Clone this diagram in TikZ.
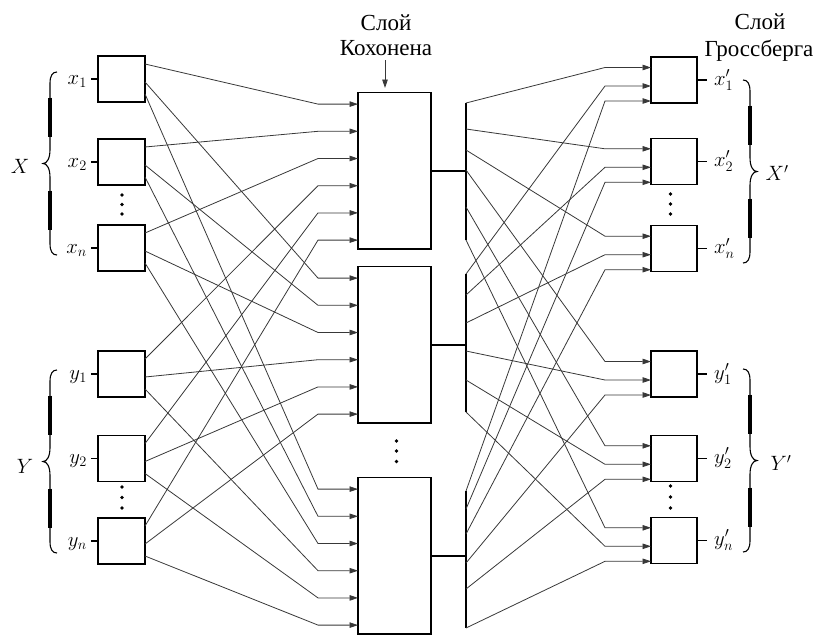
\documentclass[tikz,border=0pt]{standalone}
\usepackage{fontspec}
\newfontfamily\cyrfont{Liberation Serif}
\usetikzlibrary{arrows.meta,calc}
\begin{document}
\begin{tikzpicture}[x=1pt,y=-1pt,
  every node/.style={font=\fontsize{20.74}{25}\selectfont},
  ibox/.style={draw, line width=1.5pt, minimum width=47pt, minimum height=46pt, inner sep=0pt, outer sep=0pt},
  kbox/.style={draw, line width=1.5pt, minimum width=73pt, minimum height=156.5pt, inner sep=0pt, outer sep=0pt},
  conn/.style={line width=0.8pt, draw=black!78},
  arr/.style={conn, -{Triangle[length=8.5pt,width=5.5pt]}},
  heavy/.style={line width=1.5pt},
  stub/.style={line width=1.1pt},
  ttl/.style={font=\cyrfont\fontsize{23}{27}\selectfont, inner sep=0pt, anchor=base},
  lbl/.style={inner sep=0pt},
  bracepic/.pic={
    \draw[line width=1.1pt] (14,-91.5) .. controls (9.5,-91.5) and (7,-88) .. (7,-80)
      -- (7,-14) .. controls (7,-5) and (4,0) .. (0,0)
      .. controls (4,0) and (7,5) .. (7,14)
      -- (7,80) .. controls (7,88) and (9.5,91.5) .. (14,91.5);
    \draw[line width=3.2pt] (7,-66) -- (7,-27) (7,27) -- (7,66);
  },
]
\useasboundingbox (0,0) rectangle (819,635);

% input boxes
\foreach \i/\t in {1/56, 2/139, 3/225, 4/351, 5/435.5, 6/518}
  \node[ibox] (in\i) at (121.5, \t+23) {};
% Kohonen boxes
\foreach \k/\t in {1/92.7, 2/266.7, 3/477.7}
  \node[kbox] (kh\k) at (394.5, \t+78.25) {};
% Grossberg boxes
\foreach \i/\t in {1/57, 2/138.3, 3/225.7, 4/351, 5/435.3, 6/517.3}
  \node[ibox, minimum width=46pt] (gb\i) at (674, \t+23) {};

% input stubs and labels
\foreach \i/\t in {1/x_1, 2/x_2, 3/x_n, 4/y_1, 5/y_2, 6/y_n} {
  \draw[stub] (in\i.west) -- ++(-7,0);
  \node[lbl, anchor=base east] (lin\i) at ($(in\i.west)+(-11,5)$) {$\t$};
}
% output stubs and labels
\foreach \i/\t in {1/x'_1, 2/x'_2, 3/x'_n, 4/y'_1, 5/y'_2, 6/y'_n} {
  \draw[stub] (gb\i.east) -- ++(10,0);
  \node[lbl, anchor=base west] (lout\i) at ($(gb\i.east)+(17,5)$) {$\t$};
}

% exits of input boxes
\foreach \i in {1,...,6}
  \foreach \k/\o in {1/8, 2/26, 3/38}
    \coordinate (ex-\i-\k) at ($(in\i.north east)+(0,\o)$);
% inputs of Kohonen boxes
\foreach \k in {1,2,3}
  \foreach \i in {1,...,6}
    \coordinate (kin-\k-\i) at ($(kh\k.north west)+(0,{11.4+27.2*(\i-1)})$);
% connections input -> Kohonen
\foreach \i in {1,...,6}
  \foreach \k in {1,2,3}
    \draw[arr] (ex-\i-\k) -- ($(kin-\k-\i)+(-40,0)$) -- (kin-\k-\i);

% Kohonen outputs and buses
\foreach \k/\a/\b/\c/\d/\e/\f in {1/103/129/150/170/207/240, 2/274/295/323/351/380/412, 3/491/509/534/563/589/628} {
  \coordinate (bx-\k-1) at (466,\a);
  \coordinate (bx-\k-2) at (466,\b);
  \coordinate (bx-\k-3) at (466,\c);
  \coordinate (bx-\k-4) at (466,\d);
  \coordinate (bx-\k-5) at (466,\e);
  \coordinate (bx-\k-6) at (466,\f);
  \coordinate (kj\k) at (kh\k.east -| bx-\k-1);
  \draw[heavy] (bx-\k-1) -- (bx-\k-6);
  \draw[heavy] (kh\k.east) -- (kj\k);
}
% inputs of Grossberg boxes
\foreach \i in {1,...,6}
  \foreach \k/\o in {1/10.5, 2/29, 3/44}
    \coordinate (gin-\i-\k) at ($(gb\i.north west)+(0,\o)$);
% connections Kohonen -> Grossberg
\foreach \k in {1,2,3}
  \foreach \i in {1,...,6}
    \draw[arr] (bx-\k-\i) -- ($(gin-\i-\k)+(-46,0)$) -- (gin-\i-\k);

% dots
\foreach \x/\y in {122/195, 122/204.5, 122/214, 122/487, 122/497.5, 122/508,
                   396.5/441, 396.5/451, 396.5/461.5,
                   670.5/194, 670.5/204, 670.5/214, 670.5/486, 670.5/497, 670.5/508}
  \fill (\x,\y) circle (1.8);

% braces
\pic at (43,163.5) {bracepic};
\pic at (43,461.5) {bracepic};
\pic[xscale=-1] at (757,171.5) {bracepic};
\pic[xscale=-1] at (757,460.5) {bracepic};
\node[lbl] (lX) at (20,166) {$X$};
\node[lbl] (lY) at (25,466) {$Y$};
\node[lbl] (lXp) at (777,173) {$X'$};
\node[lbl] (lYp) at (781,463) {$Y'$};

% titles
\node[ttl] (k1) at (386,30) {Слой};
\node[ttl] (k2) at (386,55) {Кохонена};
\coordinate (kb) at (385,88);
\draw[arr] ($(k2.south)+(-1,5)$) -- (kb);
\node[ttl] (g1) at (760,29) {Слой};
\node[ttl] (g2) at (759,56) {Гроссберга};
\end{tikzpicture}
\end{document}
